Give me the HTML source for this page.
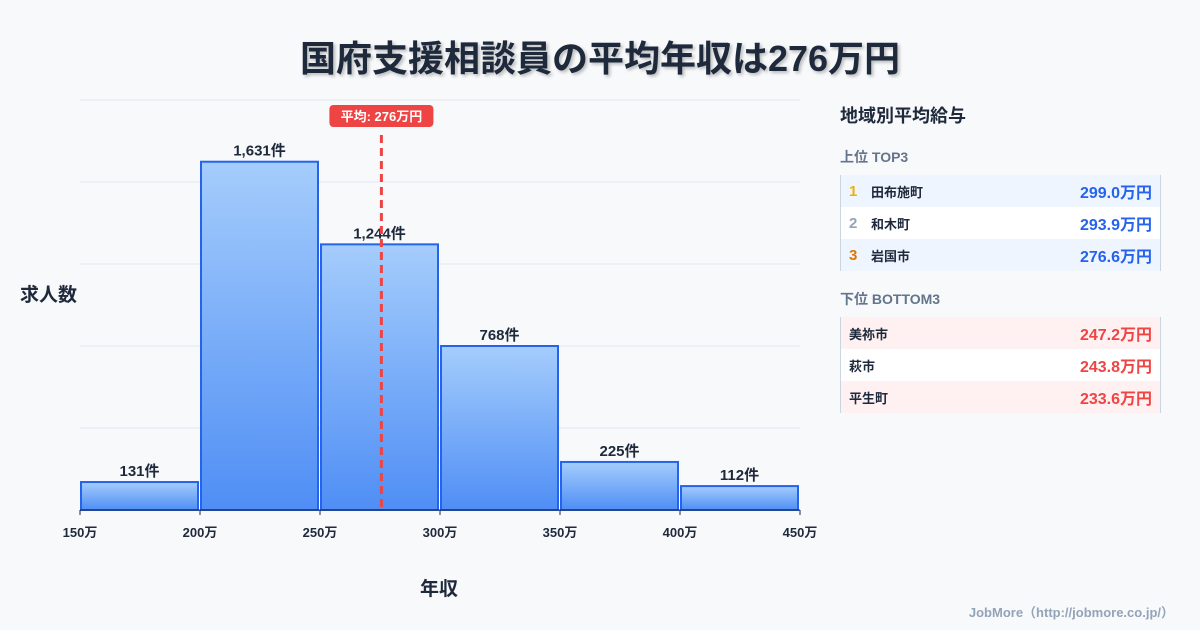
<!DOCTYPE html>
<html><head><meta charset="utf-8"><style>
body{margin:0;width:1200px;height:630px;background:#f8f9fb;font-family:"Liberation Sans","Noto Sans CJK JP",sans-serif;overflow:hidden;position:relative}
.t{position:absolute;white-space:nowrap}
</style></head><body>
<div class="t" style="left:0;width:1200px;text-align:center;top:30px;font-size:36px;font-weight:bold;color:#1e293b;text-shadow:2px 2px 3px rgba(0,0,0,.25)">国府支援相談員の平均年収は276万円</div>
<svg id="chart" width="1200" height="630" style="position:absolute;left:0;top:0">
<defs><linearGradient id="g" x1="0" y1="0" x2="0" y2="1"><stop offset="0" stop-color="#a5cdfc"/><stop offset="1" stop-color="#4f8ef5"/></linearGradient></defs>
</svg>
<div class="t" style="left:20px;top:280px;font-size:19px;font-weight:bold;color:#1e293b">求人数</div>
<div class="t" style="left:420px;top:574px;font-size:19px;font-weight:bold;color:#1e293b">年収</div>
<div style="position:absolute;left:840px;top:100px;width:321px">
<div style="font-size:18px;font-weight:bold;color:#1e293b;height:47px;line-height:32px">地域別平均給与</div>
<div style="font-size:14px;font-weight:bold;color:#64748b;height:28px">上位 TOP3</div>
<div style="border-left:1px solid #cbd5e1;border-right:1px solid #cbd5e1">
<div style="height:32px;background:#eef5ff;display:flex;align-items:center;font-size:13px;font-weight:bold;color:#1e293b"><span style="color:#eab308;width:22px;padding-left:8px;font-size:15px">1</span><span style="flex:1">田布施町</span><span style="color:#2563eb;font-size:16px;padding-right:8px">299.0万円</span></div>
<div style="height:32px;background:#fff;display:flex;align-items:center;font-size:13px;font-weight:bold;color:#1e293b"><span style="color:#94a3b8;width:22px;padding-left:8px;font-size:15px">2</span><span style="flex:1">和木町</span><span style="color:#2563eb;font-size:16px;padding-right:8px">293.9万円</span></div>
<div style="height:32px;background:#eef5ff;display:flex;align-items:center;font-size:13px;font-weight:bold;color:#1e293b"><span style="color:#d97706;width:22px;padding-left:8px;font-size:15px">3</span><span style="flex:1">岩国市</span><span style="color:#2563eb;font-size:16px;padding-right:8px">276.6万円</span></div>
</div>
<div style="font-size:14px;font-weight:bold;color:#64748b;height:28px;margin-top:18px">下位 BOTTOM3</div>
<div style="border-left:1px solid #cbd5e1;border-right:1px solid #cbd5e1">
<div style="height:32px;background:#fff1f1;display:flex;align-items:center;font-size:13px;font-weight:bold;color:#1e293b"><span style="flex:1;padding-left:8px">美祢市</span><span style="color:#ef4444;font-size:16px;padding-right:8px">247.2万円</span></div>
<div style="height:32px;background:#fff;display:flex;align-items:center;font-size:13px;font-weight:bold;color:#1e293b"><span style="flex:1;padding-left:8px">萩市</span><span style="color:#ef4444;font-size:16px;padding-right:8px">243.8万円</span></div>
<div style="height:32px;background:#fff1f1;display:flex;align-items:center;font-size:13px;font-weight:bold;color:#1e293b"><span style="flex:1;padding-left:8px">平生町</span><span style="color:#ef4444;font-size:16px;padding-right:8px">233.6万円</span></div>
</div></div>
<div class="t" style="right:26px;top:602px;font-size:13px;font-weight:bold;color:#94a3b8">JobMore（http://jobmore.co.jp/）</div>
<script>
const binStarts=[150,200,250,300,350,400];
const binWidth=50;
const counts=[131,1631,1244,768,225,112];
const xTicks=[150,200,250,300,350,400,450];
const meanValue=276;
const yMax=1920, yStep=384;
const svg=document.getElementById('chart');
const NS='http://www.w3.org/2000/svg';
const X0=80,X1=800,Y0=510,Y1=100;
const xs=v=>X0+(v-150)/300*(X1-X0);
const ys=v=>Y0-v/yMax*(Y0-Y1);
function mk(tag,attrs){const e=document.createElementNS(NS,tag);for(const k in attrs)e.setAttribute(k,attrs[k]);svg.appendChild(e);return e;}
for(let v=yStep;v<=yMax;v+=yStep){const l=mk('line',{x1:X0,x2:X1,y1:ys(v),y2:ys(v),stroke:'#e2e8f0'});

}
counts.forEach((c,i)=>{
const x=xs(binStarts[i])+1,w=xs(binStarts[i]+binWidth)-xs(binStarts[i])-3;
const r=mk('rect',{x:x,y:ys(c),width:w,height:Y0-ys(c),fill:'url(#g)',stroke:'#2563eb','stroke-width':2});


const t=mk('text',{x:x+w/2,y:ys(c)-6,'text-anchor':'middle','font-size':15,'font-weight':'bold',fill:'#1e293b'});
t.textContent=c.toLocaleString('en-US')+'件';


});
const ax=mk('line',{x1:X0,x2:X1,y1:Y0,y2:Y0,stroke:'#1e293b'});


xTicks.forEach(v=>{
const tk=mk('line',{x1:xs(v),x2:xs(v),y1:Y0,y2:Y0+5,stroke:'#1e293b'});


const t=mk('text',{x:xs(v),y:537,'text-anchor':'middle','font-size':13,'font-weight':'bold',fill:'#1e293b'});
t.textContent=v+'万';


});
const mx=xs(meanValue)-1;
const ml=mk('line',{x1:mx,x2:mx,y1:135,y2:Y0,stroke:'#ef4444','stroke-width':3,'stroke-dasharray':'8,5'});


const mb=mk('rect',{x:mx-52,y:105,width:104,height:22,rx:4,fill:'#ef4444'});


const mt=mk('text',{x:mx,y:121,'text-anchor':'middle','font-size':13,'font-weight':'bold',fill:'#fff'});
mt.textContent='平均: '+meanValue+'万円';


</script>
</body></html>
